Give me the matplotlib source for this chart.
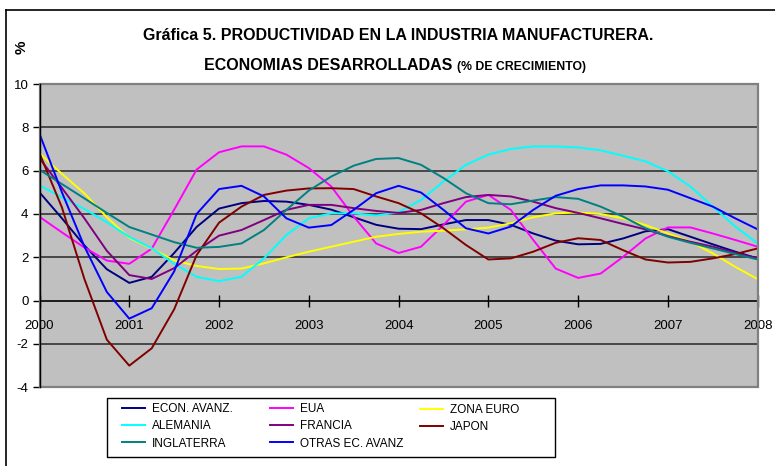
import matplotlib
matplotlib.use("Agg")
import matplotlib.pyplot as plt
import matplotlib.font_manager as fm
from matplotlib.lines import Line2D
from matplotlib.patches import Rectangle


def font_exists(name):
    try:
        fm.findfont(fm.FontProperties(family=name), fallback_to_default=False)
        return True
    except Exception:
        return False


# choose a narrow font for ticks / legend if available (reference uses Arial Narrow look)
if font_exists('Liberation Sans Narrow'):
    NARROW = ['Liberation Sans Narrow', 'DejaVu Sans']
    tick_fs, leg_fs = 11.0, 9.2
else:
    NARROW = ['Liberation Sans', 'DejaVu Sans']
    tick_fs, leg_fs = 9.5, 8.5
BOLD = ['Liberation Sans', 'DejaVu Sans']
plt.rcParams['font.family'] = NARROW

years = ['2000', '2001', '2002', '2003', '2004', '2005', '2006', '2007', '2008']
quarters = list(range(33))

econ_avanz = [5.0, 3.8, 2.55, 1.45, 0.82, 1.1, 2.2, 3.4, 4.25, 4.5, 4.6, 4.57, 4.42, 4.2, 3.85, 3.5,
              3.32, 3.3, 3.52, 3.72, 3.72, 3.5, 3.1, 2.77, 2.6, 2.62, 2.87, 3.2, 3.3, 2.95, 2.6, 2.26, 1.95]
eua = [3.87, 3.15, 2.45, 1.85, 1.7, 2.4, 4.2, 6.05, 6.85, 7.12, 7.12, 6.74, 6.12, 5.27, 3.88, 2.64,
       2.2, 2.49, 3.49, 4.57, 4.88, 4.19, 2.8, 1.48, 1.05, 1.25, 2.02, 2.87, 3.38, 3.38, 3.1, 2.8, 2.49]
zona_euro = [6.8, 5.85, 4.95, 3.85, 2.9, 2.4, 1.86, 1.6, 1.46, 1.48, 1.72, 2.0, 2.26, 2.49, 2.72, 2.95,
             3.08, 3.18, 3.23, 3.29, 3.37, 3.57, 3.85, 4.03, 4.07, 4.0, 3.8, 3.49, 3.1, 2.72, 2.18, 1.56, 0.99]
alemania = [5.32, 4.77, 4.23, 3.62, 2.94, 2.42, 1.7, 1.1, 0.9, 1.1, 1.95, 3.03, 3.8, 4.03, 4.03, 3.93,
            4.08, 4.65, 5.5, 6.27, 6.74, 7.0, 7.12, 7.12, 7.07, 6.94, 6.69, 6.43, 5.97, 5.27, 4.34, 3.42, 2.64]
francia = [6.57, 5.2, 3.8, 2.3, 1.18, 1.0, 1.5, 2.3, 3.0, 3.26, 3.72, 4.19, 4.42, 4.42, 4.27, 4.14,
           4.05, 4.19, 4.5, 4.78, 4.88, 4.81, 4.57, 4.27, 4.05, 3.8, 3.54, 3.29, 2.98, 2.72, 2.49, 2.21, 1.95]
japon = [6.8, 4.3, 1.0, -1.8, -3.0, -2.2, -0.4, 2.1, 3.6, 4.34, 4.88, 5.08, 5.18, 5.19, 5.15, 4.81,
         4.5, 4.03, 3.34, 2.57, 1.9, 1.95, 2.26, 2.67, 2.88, 2.8, 2.33, 1.9, 1.76, 1.79, 1.95, 2.15, 2.41]
inglaterra = [6.04, 5.38, 4.72, 4.05, 3.4, 3.05, 2.7, 2.44, 2.48, 2.64, 3.26, 4.19, 5.08, 5.73, 6.23, 6.54,
              6.58, 6.27, 5.66, 4.96, 4.5, 4.45, 4.62, 4.78, 4.7, 4.34, 3.88, 3.34, 2.95, 2.67, 2.41, 2.15, 1.9]
otras = [7.7, 5.0, 2.5, 0.4, -0.83, -0.35, 1.35, 4.0, 5.15, 5.3, 4.81, 3.8, 3.37, 3.49, 4.19, 4.96,
         5.3, 4.99, 4.19, 3.34, 3.1, 3.42, 4.19, 4.84, 5.15, 5.32, 5.32, 5.27, 5.12, 4.73, 4.34, 3.8, 3.29]

series = [
    ('ECON. AVANZ.', econ_avanz, '#000080'),
    ('EUA', eua, '#FF00FF'),
    ('ZONA EURO', zona_euro, '#FFFF00'),
    ('ALEMANIA', alemania, '#00FFFF'),
    ('FRANCIA', francia, '#800080'),
    ('JAPON', japon, '#800000'),
    ('INGLATERRA', inglaterra, '#008080'),
    ('OTRAS EC. AVANZ', otras, '#0000FF'),
]

W, H = 775, 466
fig = plt.figure(figsize=(W / 100, H / 100), dpi=100)
fig.patch.set_facecolor('white')

x0, x1, ytop, ybot = 39.5, 757.7, 84.0, 387.3
ax = fig.add_axes([x0 / W, 1 - ybot / H, (x1 - x0) / W, (ybot - ytop) / H])
ax.set_facecolor('#C0C0C0')
ax.set_xlim(0, 32)
ax.set_ylim(-4, 10)

yticks = list(range(-4, 11, 2))
for v in yticks:
    if -4 < v < 10 and v != 0:
        ax.axhline(v, color='#333333', lw=1.2, zorder=1)

handles = {}
for name, vals, col in series:
    ln, = ax.plot(quarters, vals, color=col, lw=1.4, zorder=3, label=name)
    handles[name] = ln

# plot border
ax.add_patch(Rectangle((0, 0), 1, 1, transform=ax.transAxes, fill=False,
                       ec='#808080', lw=1.6, zorder=4, clip_on=False))

for s in ['top', 'right']:
    ax.spines[s].set_visible(False)
ax.spines['left'].set_color('black')
ax.spines['left'].set_linewidth(1.0)
ax.spines['left'].set_zorder(5)
ax.spines['bottom'].set_position(('data', 0))
ax.spines['bottom'].set_color('black')
ax.spines['bottom'].set_linewidth(1.2)
ax.spines['bottom'].set_zorder(2)

ax.set_xticks(range(0, 33, 4))
ax.set_xticklabels(years)
ax.tick_params(axis='x', direction='inout', length=8, width=1, pad=10, labelsize=tick_fs, colors='black')
ax.set_yticks(yticks)
ax.set_yticklabels([str(v) for v in yticks])
ax.tick_params(axis='y', direction='out', length=5, width=1, pad=3, labelsize=tick_fs)

# outer chart border
fig.add_artist(Line2D([6 / W, 1.0], [1 - 10 / H, 1 - 10 / H], transform=fig.transFigure, color='black', lw=1.2))
fig.add_artist(Line2D([6 / W, 6 / W], [0, 1 - 10 / H], transform=fig.transFigure, color='black', lw=1.2))

# titles
fig.text(398 / W, 1 - 35 / H, 'Gráfica 5. PRODUCTIVIDAD EN LA INDUSTRIA MANUFACTURERA.',
         ha='center', va='center', fontweight='bold', fontsize=11.5, family=BOLD)
fig.text(452 / W, 1 - 66 / H, 'ECONOMIAS DESARROLLADAS', ha='right', va='center',
         fontweight='bold', fontsize=11.5, family=BOLD)
fig.text(457 / W, 1 - 67 / H, '(% DE CRECIMIENTO)', ha='left', va='center',
         fontweight='bold', fontsize=8.8, family=BOLD)
fig.text(22 / W, 1 - 47 / H, '%', ha='center', va='center', rotation=90,
         fontweight='bold', fontsize=11, family=BOLD)

# legend frame
fig.add_artist(Rectangle((107 / W, 1 - 457 / H), 448 / W, 59 / H, transform=fig.transFigure,
                         fill=False, ec='black', lw=1.0))

# legend: three single-column legends at the reference column positions
size_px = leg_fs * 100 / 72
columns = [
    (122, ['ECON. AVANZ.', 'ALEMANIA', 'INGLATERRA'], 426.3),
    (270, ['EUA', 'FRANCIA', 'OTRAS EC. AVANZ'], 426.3),
    (420, ['ZONA EURO', 'JAPON'], 418.5),
]
for xh, names, yc in columns:
    fig.legend([handles[n] for n in names], names, loc='center left',
               bbox_to_anchor=(xh / W, 1 - yc / H), frameon=False, fontsize=leg_fs,
               handlelength=23 / size_px, handletextpad=7 / size_px,
               labelspacing=0.45, borderpad=0, borderaxespad=0)

fig.savefig('out.png', dpi=100, facecolor='white')
